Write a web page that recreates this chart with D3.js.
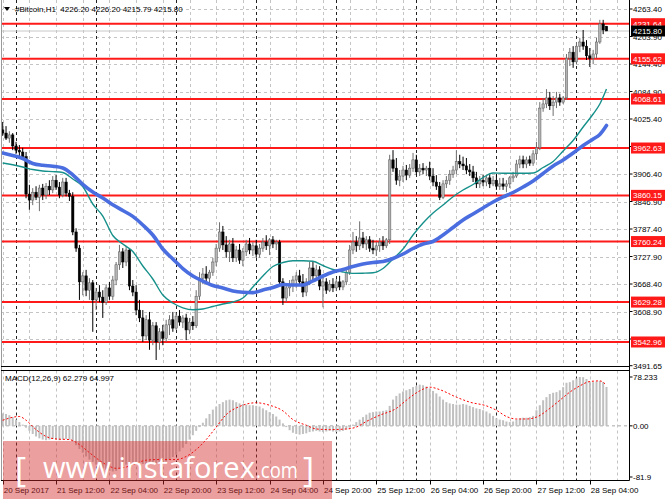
<!DOCTYPE html>
<html>
<head>
<meta charset="utf-8">
<script src="https://cdn.jsdelivr.net/npm/d3@7"></script>
<style>
  body { margin: 0; background: #fff; }
  svg { display: block; font-family: "Liberation Sans", Arial, sans-serif; }
</style>
</head>
<body>
<div id="chart"></div>
<script>
// #Bitcoin H1 - candles, two moving averages, support/resistance levels, MACD

const opens = [
  4002,3995,3984,3991,3967,3958,3954,3944,3863,3850,
  3867,3856,3876,3861,3880,3872,3893,3878,3861,3889,
  3865,3858,3781,3746,3673,3686,3655,3671,3634,3651,
  3640,3629,3660,3642,3677,3710,3738,3716,3742,3664,
  3651,3612,3595,3556,3591,3547,3578,3543,3565,3551,
  3580,3591,3573,3599,3586,3595,3569,3586,3578,3642,
  3681,3690,3681,3694,3716,3746,3781,3753,3738,3755,
  3725,3742,3720,3738,3755,3742,3751,3733,3746,3759,
  3751,3764,3755,3759,3673,3638,3660,3668,3677,3686,
  3673,3651,3673,3703,3686,3699,3664,3673,3655,3668,
  3660,3673,3662,3673,3694,3742,3759,3751,3768,3755,
  3764,3746,3742,3751,3759,3751,3764,3937,3919,3893,
  3902,3915,3904,3919,3937,3911,3919,3915,3919,3902,
  3889,3880,3856,3885,3893,3906,3915,3933,3928,3924,
  3915,3911,3898,3885,3893,3889,3898,3885,3893,3880,
  3885,3880,3885,3898,3902,3928,3937,3928,3937,3930,
  3950,3963,4049,4058,4071,4054,4062,4071,4062,4071,
  4157,4170,4149,4183,4192,4183,4162,4157,4166,4192,
  4231,4226.20
];
const highs = [
  4019,4010,3999,3995,3976,3969,3963,3954,3883,3876,
  3880,3883,3885,3887,3893,3902,3904,3889,3898,3898,
  3872,3867,3789,3753,3694,3699,3681,3677,3660,3666,
  3655,3668,3673,3686,3716,3753,3746,3751,3746,3677,
  3666,3634,3612,3601,3608,3586,3586,3573,3580,3591,
  3601,3608,3606,3612,3601,3604,3595,3599,3655,3694,
  3703,3707,3699,3725,3755,3802,3794,3772,3764,3768,
  3751,3755,3746,3764,3768,3759,3764,3755,3768,3774,
  3768,3772,3764,3764,3681,3666,3677,3686,3694,3699,
  3690,3681,3716,3716,3710,3707,3688,3681,3677,3681,
  3679,3686,3677,3699,3753,3781,3772,3804,3781,3772,
  3772,3764,3759,3768,3772,3768,3948,3958,3941,3915,
  3924,3926,3928,3952,3948,3928,3930,3924,3933,3919,
  3904,3889,3893,3902,3915,3924,3958,3948,3944,3941,
  3928,3924,3911,3902,3904,3902,3906,3902,3906,3898,
  3898,3893,3902,3911,3937,3946,3946,3944,3946,3958,
  3976,4062,4071,4090,4084,4075,4084,4080,4075,4166,
  4179,4183,4192,4201,4218,4196,4179,4175,4201,4240,
  4240,4226.20
];
const lows = [
  3989,3980,3974,3958,3950,3941,3937,3854,3829,3839,
  3850,3826,3850,3852,3861,3865,3872,3854,3856,3858,
  3848,3774,3738,3634,3644,3642,3634,3565,3612,3629,
  3595,3623,3634,3634,3666,3699,3703,3707,3655,3642,
  3601,3586,3543,3547,3526,3536,3504,3526,3536,3543,
  3558,3565,3569,3578,3573,3547,3560,3569,3573,3634,
  3668,3673,3666,3686,3707,3738,3742,3725,3716,3716,
  3716,3712,3707,3729,3733,3729,3725,3725,3738,3742,
  3731,3746,3742,3666,3623,3629,3642,3651,3660,3664,
  3640,3642,3666,3677,3677,3655,3618,3647,3651,3651,
  3653,3655,3655,3666,3688,3733,3738,3742,3746,3742,
  3738,3733,3729,3738,3742,3746,3755,3911,3883,3880,
  3889,3893,3898,3911,3904,3902,3906,3902,3893,3880,
  3872,3850,3852,3876,3883,3898,3906,3919,3915,3906,
  3902,3889,3876,3876,3880,3880,3876,3880,3872,3872,
  3872,3867,3876,3889,3898,3919,3919,3919,3924,3924,
  3937,3958,4041,4049,4045,4032,4049,4054,4058,4067,
  4140,4136,4144,4170,4175,4153,4138,4144,4157,4188,
  4209,4215.79
];
const closes = [
  3995,3984,3991,3967,3958,3954,3944,3863,3850,3867,
  3856,3876,3861,3880,3872,3893,3878,3861,3889,3865,
  3858,3781,3746,3673,3686,3655,3671,3634,3651,3640,
  3629,3660,3642,3677,3710,3738,3716,3742,3664,3651,
  3612,3595,3556,3591,3547,3578,3543,3565,3551,3580,
  3591,3573,3599,3586,3595,3569,3586,3578,3642,3681,
  3690,3681,3694,3716,3746,3781,3753,3738,3755,3725,
  3742,3720,3738,3755,3742,3751,3733,3746,3759,3751,
  3764,3755,3759,3673,3638,3660,3668,3677,3686,3673,
  3651,3673,3703,3686,3699,3664,3673,3655,3668,3660,
  3673,3662,3673,3694,3742,3759,3751,3768,3755,3764,
  3746,3742,3751,3759,3751,3764,3937,3919,3893,3902,
  3915,3904,3919,3937,3911,3919,3915,3919,3902,3889,
  3880,3856,3885,3893,3906,3915,3933,3928,3924,3915,
  3911,3898,3885,3893,3889,3898,3885,3893,3880,3885,
  3880,3885,3898,3902,3928,3937,3928,3937,3930,3950,
  3963,4049,4058,4071,4054,4062,4071,4062,4071,4157,
  4170,4149,4183,4192,4183,4162,4157,4166,4192,4231,
  4218,4215.80
];

// moving averages: bar index / price
const blueMaIdx = [0,3,6,9,12,15,18,21,24,27,30,33,36,39,42,45,48,51,54,57,60,63,66,69,72,75,78,81,84,87,90,93,96,99,102,105,108,111,114,117,120,123,126,129,132,135,138,141,144,147,150,153,156,159,162,165,168,171,174,177,179,181];
const blueMaVal = [3951.8,3946.4,3939.9,3929.1,3925.2,3923.1,3919.4,3904.7,3884.1,3867.5,3854.5,3839.8,3827.4,3814.7,3796.1,3774.4,3744.1,3722.5,3701.9,3685.7,3674.9,3665.2,3659.7,3653.3,3650.5,3649.8,3655.4,3660.8,3667.3,3666.2,3666.2,3675.3,3685.7,3694.4,3699.8,3706.3,3711.7,3715.0,3717.1,3723.6,3733.3,3745.2,3755.0,3760.4,3774.4,3790.7,3806.9,3819.9,3832.9,3845.8,3856.7,3866.4,3878.3,3891.3,3907.5,3923.7,3936.7,3951.8,3968.1,3982.1,3991.9,4011.3];
const tealMaIdx = [0,3,6,9,12,15,18,21,24,27,30,33,36,39,42,45,48,51,54,57,60,63,66,69,72,75,78,81,84,87,90,93,96,99,102,105,108,111,114,117,120,123,126,129,132,135,138,141,144,147,150,153,156,159,162,165,168,171,174,177,179,181];
const tealMaVal = [3930.2,3926.3,3921.5,3916.1,3912.9,3911.6,3909.6,3895.6,3879.4,3841.5,3815.5,3773.3,3754.9,3738.7,3707.4,3679.2,3644.6,3627.3,3616.9,3612.6,3614.3,3619.7,3625.1,3629.5,3638.1,3661.9,3685.7,3706.3,3714.9,3718.6,3718.6,3717.7,3708.4,3699.8,3694.4,3691.5,3691.8,3692.6,3701.9,3722.5,3744.1,3774.4,3800.4,3822.0,3839.3,3857.3,3871.8,3883.7,3898.8,3908.6,3907.9,3907.9,3907.9,3908.6,3920.5,3933.5,3956.2,3978.9,4008.1,4036.2,4057.9,4090.3];

// MACD(12,26,9) main (histogram) per bar
const macdHist = [
  20,19,17,14,10,6,2,-3,-8,-13,
  -17,-20,-22,-23,-22,-21,-22,-23,-22,-21,
  -22,-25,-31,-37,-43,-49,-54,-58,-62,-65,
  -68,-70,-72,-73,-72,-69,-65,-62,-60,-59,
  -58,-59,-61,-62,-61,-60,-60,-61,-60,-57,
  -54,-50,-46,-41,-35,-29,-22,-15,-8,-2,
  5,12,19,26,31,35,38,41,42,41,
  38,36,35,34,33,33,32,31,28,25,
  22,19,15,10,4,-2,-7,-11,-13,-14,
  -13,-12,-10,-9,-8,-9,-10,-9,-8,-9,
  -10,-9,-8,-6,-3,2,6,10,14,18,
  21,22,23,23,24,25,32,42,48,52,
  55,57,59,62,64,66,65,63,60,56,
  52,47,42,38,36,35,34,34,35,34,
  32,30,28,27,25,23,20,16,12,10,
  9,7,6,7,10,12,13,13,14,16,
  25,33,41,46,51,53,54,57,62,69,
  70,73,76,78.233,78,75,71,70,71,72,
  70,62.279
];
const signalIdx = [0,5,7,10,13,16,20,23,26,31,34,37,40,43,47,52,55,58,61,64,67,71,76,80,84,87,91,94,98,103,106,109,113,118,121,125,128,131,136,140,145,148,151,154,157,160,164,167,170,173,176,179,181];
const signalVal = [9,15,9,-6,-17,-21,-22,-30,-43,-62,-68,-66,-60,-55,-54,-54,-49,-38,-22,-2,18,31,37,33,24,10,1,-5,-6,-5,-2,7,17,28,41,56,62,58,46,38,32,25,15,11,11,14,28,41,54,64,71,72,64.997];

const levels = [4231.64, 4155.62, 4068.61, 3962.63, 3860.15, 3760.24, 3629.28, 3542.96];
const priceTicks = ["4263.40","4203.90","4144.40","4084.90","4025.40","3965.90","3906.40","3846.90","3787.40","3727.90","3668.40","3608.90","3549.40","3491.65"];
const macdTicks = ["78.233","0.00","-81.9"];
const lastPrice = 4215.80;
const timeIdx = [0,16,32,48,64,80,96,112,128,144,160,176];
const timeText = ["20 Sep 2017","21 Sep 12:00","22 Sep 04:00","22 Sep 20:00","23 Sep 12:00","24 Sep 04:00","24 Sep 20:00","25 Sep 12:00","26 Sep 04:00","26 Sep 20:00","27 Sep 12:00","28 Sep 04:00"];
const daySepIdx = [4,28,52,76,100,124,148,172];

const width = 665, height = 499;
const plotRight = 629.5;
const mainBottom = 366.5, macdTop = 370.5, macdBottom = 480.5;

const x = d3.scaleLinear().domain([0, 181]).range([2.7, 606.5]);
const y = d3.scaleLinear().domain([3491.65, 4263.4]).range([365.7, 9]);
const ym = d3.scaleLinear().domain([-81.9, 78.233]).range([477, 377]);

const svg = d3.select("#chart")
  .append("svg")
  .attr("width", width)
  .attr("height", height);

svg.append("rect").attr("width", width).attr("height", height).attr("fill", "#fff");

const defs = svg.append("defs");
defs.append("clipPath").attr("id", "clipMain")
  .append("rect").attr("x", 1).attr("y", 0).attr("width", plotRight - 1).attr("height", mainBottom);
defs.append("clipPath").attr("id", "clipMacd")
  .append("rect").attr("x", 1).attr("y", macdTop).attr("width", plotRight - 1).attr("height", macdBottom - macdTop);

const main = svg.append("g").attr("clip-path", "url(#clipMain)");
const macd = svg.append("g").attr("clip-path", "url(#clipMacd)");

// grid
const gridIdx = d3.range(0, 190, 8);
main.selectAll(".hgrid")
  .data(priceTicks.map(Number))
  .join("line")
  .attr("x1", 0).attr("x2", plotRight)
  .attr("y1", d => Math.round(y(d)) + 0.5).attr("y2", d => Math.round(y(d)) + 0.5)
  .attr("stroke", "#c4c4c4").attr("stroke-dasharray", "3,3");

[main, macd].forEach((g, k) => {
  const y1 = k === 0 ? 0 : macdTop, y2 = k === 0 ? mainBottom : macdBottom;
  g.selectAll(".vgrid")
    .data(gridIdx)
    .join("line")
    .attr("x1", d => Math.round(x(d)) + 0.5).attr("x2", d => Math.round(x(d)) + 0.5)
    .attr("y1", y1).attr("y2", y2)
    .attr("stroke", "#c4c4c4").attr("stroke-dasharray", "3,3");
  g.selectAll(".daysep")
    .data(daySepIdx)
    .join("line")
    .attr("x1", d => Math.round(x(d)) + 0.5).attr("x2", d => Math.round(x(d)) + 0.5)
    .attr("y1", y1).attr("y2", y2)
    .attr("stroke", "#222").attr("stroke-dasharray", "3,3");
});

// bid line
main.append("line")
  .attr("x1", 0).attr("x2", plotRight)
  .attr("y1", y(lastPrice)).attr("y2", y(lastPrice))
  .attr("stroke", "#c8c8c8");

// red levels
main.selectAll(".level")
  .data(levels)
  .join("line")
  .attr("x1", 0).attr("x2", plotRight)
  .attr("y1", d => y(d)).attr("y2", d => y(d))
  .attr("stroke", "#ff1a1a").attr("stroke-width", 2);

// candles
const bars = d3.range(closes.length).map(i => ({
  i, o: opens[i], h: highs[i], l: lows[i], c: closes[i]
}));

main.selectAll(".wick")
  .data(bars)
  .join("line")
  .attr("x1", d => x(d.i)).attr("x2", d => x(d.i))
  .attr("y1", d => y(d.h)).attr("y2", d => y(d.l))
  .attr("stroke", d => d.c >= d.o ? "#6e6e6e" : "#000")
  .attr("stroke-width", 1);

main.selectAll(".body")
  .data(bars)
  .join("rect")
  .attr("x", d => x(d.i) - 1.2)
  .attr("width", 2.4)
  .attr("y", d => y(Math.max(d.o, d.c)))
  .attr("height", d => Math.max(1, Math.abs(y(d.o) - y(d.c))))
  .attr("fill", d => d.c >= d.o ? "#b4b4b4" : "#000")
  .attr("stroke", d => d.c >= d.o ? "#5a5a5a" : "#000")
  .attr("stroke-width", 0.5);

// moving averages
const maLine = d3.line()
  .x(d => x(d[0]))
  .y(d => y(d[1]))
  .curve(d3.curveMonotoneX);

main.append("path")
  .attr("d", maLine(tealMaIdx.map((d, k) => [d, tealMaVal[k]])))
  .attr("fill", "none").attr("stroke", "#16908a").attr("stroke-width", 1.4);

main.append("path")
  .attr("d", maLine(blueMaIdx.map((d, k) => [d, blueMaVal[k]])))
  .attr("fill", "none").attr("stroke", "#4a6de0").attr("stroke-width", 3.6)
  .attr("stroke-linecap", "round");

// MACD
macd.append("line")
  .attr("x1", 0).attr("x2", plotRight)
  .attr("y1", ym(0)).attr("y2", ym(0))
  .attr("stroke", "#a8a8a8").attr("stroke-dasharray", "3,3");

macd.selectAll(".hist")
  .data(macdHist)
  .join("rect")
  .attr("x", (d, i) => x(i) - 1)
  .attr("width", 2)
  .attr("y", d => Math.min(ym(d), ym(0)))
  .attr("height", d => Math.abs(ym(d) - ym(0)))
  .attr("fill", "#c0c0c0");

macd.append("path")
  .attr("d", d3.line().x(d => x(d[0])).y(d => ym(d[1])).curve(d3.curveMonotoneX)(signalIdx.map((d, k) => [d, signalVal[k]])))
  .attr("fill", "none").attr("stroke", "#ff0000").attr("stroke-width", 1)
  .attr("stroke-dasharray", "2,2");

// frames
svg.append("line").attr("x1", 1.5).attr("x2", 1.5).attr("y1", 0).attr("y2", macdBottom).attr("stroke", "#9a9a9a");
svg.append("line").attr("x1", plotRight).attr("x2", plotRight).attr("y1", 0).attr("y2", macdBottom).attr("stroke", "#000");
[mainBottom, macdTop, macdBottom].forEach(v => {
  svg.append("line").attr("x1", 1).attr("x2", plotRight).attr("y1", v).attr("y2", v).attr("stroke", "#000");
});

// price axis labels
const axisG = svg.append("g").style("font-size", "8px");
axisG.selectAll(".ptick")
  .data(priceTicks)
  .join("line")
  .attr("x1", plotRight).attr("x2", plotRight + 3)
  .attr("y1", d => y(+d)).attr("y2", d => y(+d))
  .attr("stroke", "#000");
axisG.selectAll(".plabel")
  .data(priceTicks)
  .join("text")
  .attr("x", 633).attr("y", d => y(+d) + 3)
  .attr("fill", "#000")
  .text(d => d);

const levelG = axisG.selectAll(".lvl")
  .data(levels)
  .join("g");
levelG.append("rect")
  .attr("x", 631).attr("y", d => y(d) - 5.5)
  .attr("width", 34).attr("height", 11)
  .attr("fill", "#ff1a1a");
levelG.append("text")
  .attr("x", 633).attr("y", d => y(d) + 3)
  .attr("fill", "#fff")
  .text(d => d.toFixed(2));

axisG.append("rect")
  .attr("x", 631).attr("y", y(lastPrice) - 5.5)
  .attr("width", 34).attr("height", 11)
  .attr("fill", "#000");
axisG.append("text")
  .attr("x", 633).attr("y", y(lastPrice) + 3)
  .attr("fill", "#fff")
  .text(lastPrice.toFixed(2));

// MACD axis labels
axisG.selectAll(".mlabel")
  .data(macdTicks)
  .join("text")
  .attr("x", 633).attr("y", d => ym(+d) + 3)
  .attr("fill", "#000")
  .text(d => d);
axisG.selectAll(".mtick")
  .data(macdTicks)
  .join("line")
  .attr("x1", plotRight).attr("x2", plotRight + 3)
  .attr("y1", d => ym(+d)).attr("y2", d => ym(+d))
  .attr("stroke", "#000");

// time axis
axisG.selectAll(".ttick")
  .data(timeIdx)
  .join("line")
  .attr("x1", d => Math.round(x(d)) + 0.5).attr("x2", d => Math.round(x(d)) + 0.5)
  .attr("y1", macdBottom).attr("y2", macdBottom + 4)
  .attr("stroke", "#000");
axisG.selectAll(".tlabel")
  .data(timeIdx)
  .join("text")
  .attr("x", d => x(d) + 1)
  .attr("y", 493)
  .attr("fill", "#000")
  .text((d, k) => timeText[k]);

// titles
svg.append("path").attr("d", "M4,7 L10,7 L7,11 Z").attr("fill", "#000");
svg.append("text")
  .attr("x", 15).attr("y", 12)
  .style("font-size", "8px")
  .text("#Bitcoin,H1\u00a0\u00a04226.20 4226.20 4215.79 4215.80");
svg.append("text")
  .attr("x", 5).attr("y", 381)
  .style("font-size", "8px")
  .text("MACD(12,26,9) 62.279 64.997");

// watermark
const wm = svg.append("g");
wm.append("rect")
  .attr("x", 3).attr("y", 441).attr("width", 329).attr("height", 58)
  .attr("fill", "#d42a2a").attr("opacity", 0.45);
wm.append("text").attr("x", 15).attr("y", 482)
  .style("font-family", "'Open Sans', sans-serif").style("font-size", "34px").attr("fill", "#fff")
  .text("[");
wm.append("text").attr("x", 43).attr("y", 478)
  .style("font-family", "'Open Sans', sans-serif").style("font-size", "29px").attr("fill", "#fff")
  .attr("textLength", 212).attr("lengthAdjust", "spacingAndGlyphs")
  .text("www.instaforex");
wm.append("text").attr("x", 256).attr("y", 478)
  .style("font-family", "'Open Sans', sans-serif").style("font-size", "21px").attr("fill", "#fff")
  .attr("textLength", 42).attr("lengthAdjust", "spacingAndGlyphs")
  .text(".com");
wm.append("text").attr("x", 303).attr("y", 482)
  .style("font-family", "'Open Sans', sans-serif").style("font-size", "34px").attr("fill", "#fff")
  .text("]");
</script>
</body>
</html>
